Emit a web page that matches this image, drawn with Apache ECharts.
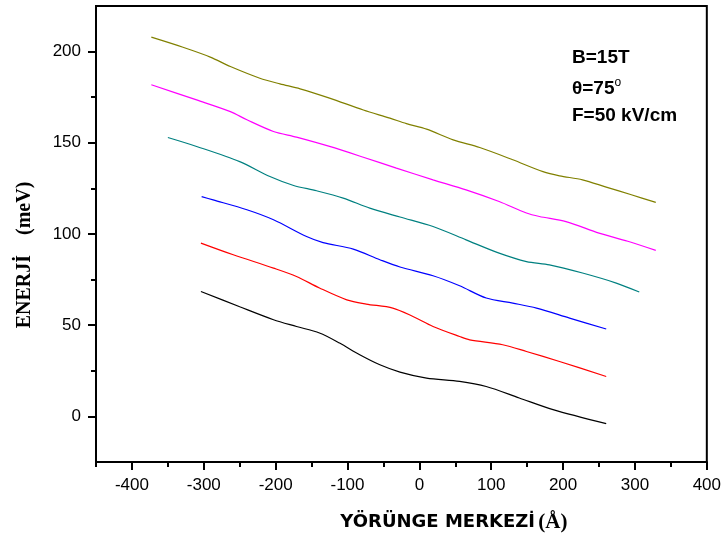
<!DOCTYPE html>
<html>
<head>
<meta charset="utf-8">
<script src="https://cdn.jsdelivr.net/npm/echarts@6/dist/echarts.min.js"></script>
<style>html,body{margin:0;padding:0;background:#fff;}#c{width:724px;height:541px;}</style>
</head>
<body>
<div id="c"></div>
<script>
// ---- data ----
var xMajorTicks = [-400, -300, -200, -100, 0, 100, 200, 300, 400];
var xMinorTicks = [-450, -350, -250, -150, -50, 50, 150, 250, 350];
var yMajorTicks = [0, 50, 100, 150, 200];
var yMinorTicks = [25, 75, 125, 175];

var oliveX = [-373,-330,-291,-263,-222,-194,-166,-125,-78,-41,-18,10,47,84,130,172,195,227,260,295,329];
var oliveY = [207.9,202.5,197,191.8,185.4,182.3,179.6,174.5,168,163.5,160.5,157.5,151.6,147.4,140.7,134.2,131.9,129.7,125.7,121.5,117.3];
var magentaX = [-373,-310,-263,-240,-203,-171,-125,-78,-32,19,65,111,149,167,204,250,290,329];
var magentaY = [181.8,173.5,167.1,162.6,156.2,153.1,148,142.1,136.1,129.7,124.2,117.8,111.5,109.6,106.8,100.5,96,91];
var tealX = [-350,-310,-250,-208,-175,-143,-106,-69,-27,19,65,111,149,181,227,274,306];
var tealY = [152.9,148,139.7,131.5,126.6,123.7,119.7,114.2,109.3,104.1,96.8,89.5,84.9,83.1,78.6,73.1,68.2];
var blueX = [-303,-287,-240,-203,-157,-134,-92,-55,-27,19,56,93,130,163,209,260];
var blueY = [120.5,118.7,113.3,107.8,98.6,95.3,91.7,85.9,81.9,77.1,71.6,64.9,62.1,59.4,53.9,47.9];
var redX = [-304,-259,-203,-171,-139,-101,-74,-37,-9,19,56,70,116,149,195,260];
var redY = [95,88.6,81.3,76.7,70.4,63.9,61.6,59.4,54.8,49.3,43.8,42,39.3,35.6,30.1,21.9];
var blackX = [-304,-250,-203,-171,-139,-111,-83,-55,-27,10,56,93,139,186,260];
var blackY = [68.5,60.1,53,49.3,45.7,40.2,33.8,28.3,24.3,21,19.2,16.4,10.1,3.7,-4];

var xTitle = 'YÖRÜNGE MERKEZİ';
var xUnit = '(Å)';
var yTitle = 'ENERJİ';
var yUnit = '(meV)';
var notes = ['B=15T', 'θ=75', 'F=50 kV/cm'];

function pairs(xs, ys) { return xs.map(function (x, i) { return [x, ys[i]]; }); }

var seriesDefs = [
  { name: 'olive', x: oliveX, y: oliveY, color: '#808000' },
  { name: 'magenta', x: magentaX, y: magentaY, color: '#ff00ff' },
  { name: 'teal', x: tealX, y: tealY, color: '#008080' },
  { name: 'blue', x: blueX, y: blueY, color: '#0000ff' },
  { name: 'red', x: redX, y: redY, color: '#ff0000' },
  { name: 'black', x: blackX, y: blackY, color: '#000000' }
];

var chart = echarts.init(document.getElementById('c'), null, { renderer: 'canvas' });
var tickFont = { fontFamily: 'Liberation Sans', fontSize: 17, color: '#000' };

chart.setOption({
  animation: false,
  backgroundColor: '#fff',
  grid: { left: 96, right: 16, top: 6, bottom: 79, show: true, borderColor: '#000', borderWidth: 2, backgroundColor: 'transparent' },
  xAxis: [
    {
      type: 'value', min: -450, max: 400, gridIndex: 0, position: 'bottom',
      name: '{a|' + xTitle + '} {b|' + xUnit + '}',
      nameLocation: 'middle', nameGap: 50,
      nameTextStyle: {
        padding: [0, 0, 0, 105],
        rich: {
          a: { fontFamily: 'DejaVu Sans', fontWeight: 'bold', fontSize: 18, color: '#000' },
          b: { fontFamily: 'Liberation Serif', fontWeight: 'bold', fontSize: 21, color: '#000' }
        }
      },
      axisLine: { show: true, onZero: false, lineStyle: { color: '#000', width: 2 } },
      axisTick: { show: true, length: 8, customValues: xMajorTicks, lineStyle: { color: '#000', width: 2 } },
      axisLabel: Object.assign({ margin: 15, customValues: xMajorTicks }, tickFont),
      splitLine: { show: false }
    },
    {
      type: 'value', min: -450, max: 400, gridIndex: 0, position: 'bottom',
      axisLine: { show: false, onZero: false },
      axisTick: { show: true, length: 5, customValues: xMinorTicks, lineStyle: { color: '#000', width: 2 } },
      axisLabel: { show: false },
      splitLine: { show: false }
    }
  ],
  yAxis: [
    {
      type: 'value', min: -25, max: 225, position: 'left',
      name: yTitle + '    ' + yUnit,
      nameLocation: 'middle', nameGap: 61, nameRotate: 90,
      nameTextStyle: { fontFamily: 'Liberation Serif', fontWeight: 'bold', fontSize: 20, color: '#000', padding: [0, 42, 0, 0] },
      axisLine: { show: true, onZero: false, lineStyle: { color: '#000', width: 2 } },
      axisTick: { show: true, length: 8, customValues: yMajorTicks, lineStyle: { color: '#000', width: 2 } },
      axisLabel: Object.assign({ margin: 15, customValues: yMajorTicks }, tickFont),
      splitLine: { show: false }
    },
    {
      type: 'value', min: -25, max: 225, position: 'left',
      axisLine: { show: false, onZero: false },
      axisTick: { show: true, length: 5, customValues: yMinorTicks, lineStyle: { color: '#000', width: 2 } },
      axisLabel: { show: false },
      splitLine: { show: false }
    }
  ],
  graphic: [
    { type: 'text', left: 572, top: 48, style: { text: notes[0], fontFamily: 'Liberation Sans', fontWeight: 'bold', fontSize: 19, fill: '#000' } },
    { type: 'text', left: 572, top: 77, style: { text: '{a|' + notes[1] + '}{s|o}', rich: {
        a: { fontFamily: 'Liberation Sans', fontWeight: 'bold', fontSize: 19, fill: '#000', color: '#000' },
        s: { fontFamily: 'Liberation Sans', fontSize: 12, fill: '#000', color: '#000', verticalAlign: 'top', padding: [0, 0, 12, 0] } } } },
    { type: 'text', left: 572, top: 106, style: { text: notes[2], fontFamily: 'Liberation Sans', fontWeight: 'bold', fontSize: 19, fill: '#000' } }
  ],
  series: seriesDefs.map(function (s) {
    return {
      name: s.name, type: 'line', xAxisIndex: 0, yAxisIndex: 0,
      data: pairs(s.x, s.y), smooth: 0.3, showSymbol: false, symbol: 'none',
      lineStyle: { color: s.color, width: 1.2 }, itemStyle: { color: s.color }
    };
  })
});
</script>
</body>
</html>
